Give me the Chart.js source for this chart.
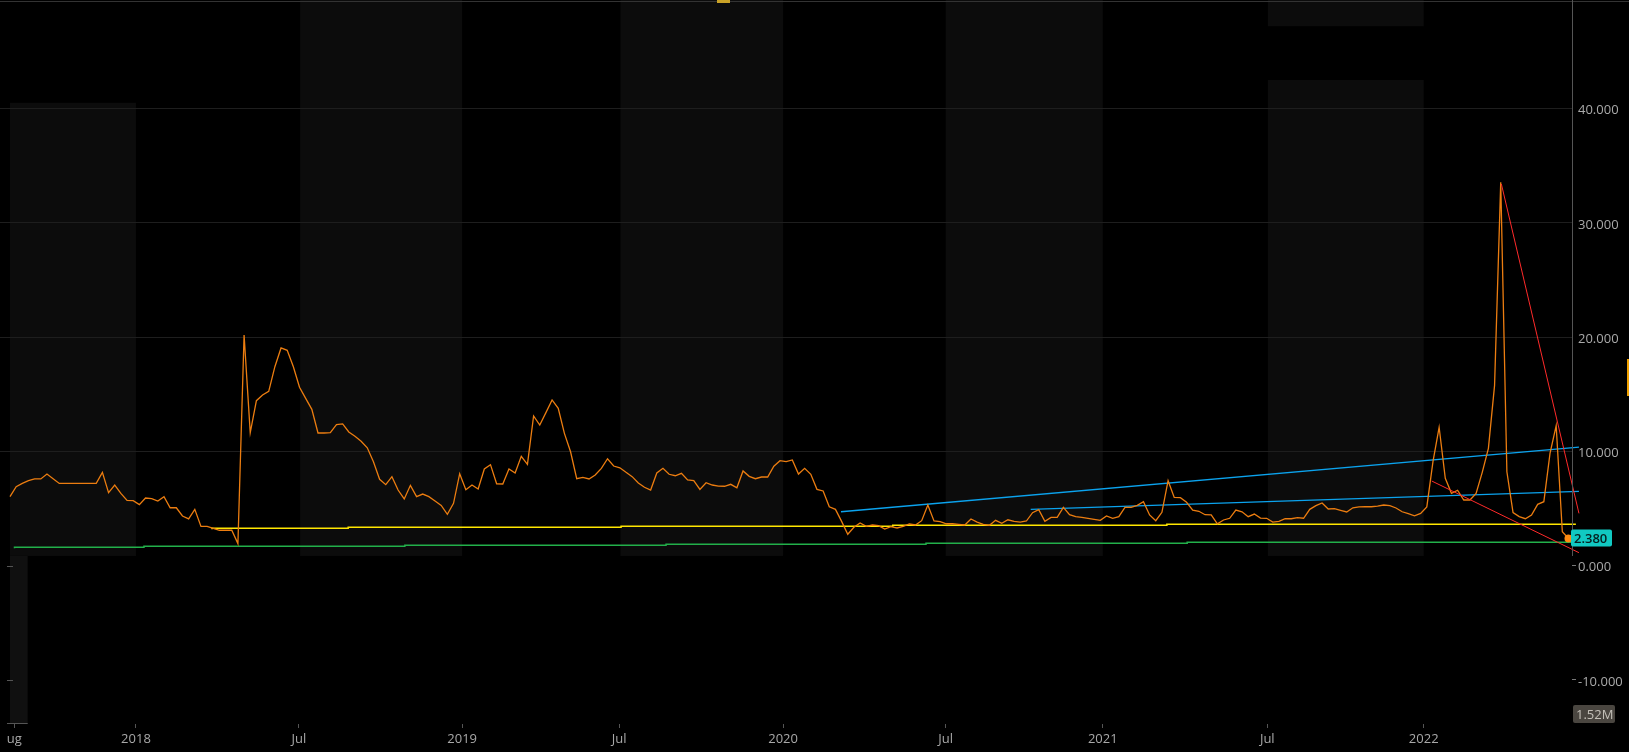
<!DOCTYPE html>
<html>
<head>
<meta charset="utf-8">
<script src="https://cdn.jsdelivr.net/npm/chart.js@4.4.1/dist/chart.umd.min.js"></script>
<style>
  html, body { margin: 0; padding: 0; background: #000; overflow: hidden; }
  #chart { display: block; }
</style>
</head>
<body>
<canvas id="chart" width="1629" height="752"></canvas>
<script>
// weekly values, Aug 2017 .. Jun 2022 (one per bar)
const weekly = [
  6.04, 6.91, 7.2, 7.44, 7.59, 7.59, 8.02, 7.61, 7.2, 7.2,
  7.2, 7.2, 7.2, 7.2, 7.2, 8.17, 6.39, 7.06, 6.33, 5.72,
  5.69, 5.34, 5.92, 5.86, 5.66, 6.04, 5.07, 5.07, 4.35, 4.09,
  4.93, 3.44, 3.44, 3.27, 3.1, 3.1, 3.1, 1.93, 20.18, 11.64,
  14.44, 14.93, 15.26, 17.41, 19.05, 18.84, 17.41, 15.61, 14.64, 13.68,
  11.61, 11.61, 11.64, 12.34, 12.4, 11.7, 11.32, 10.88, 10.32, 9.1,
  7.56, 7.09, 7.79, 6.62, 5.84, 7.03, 6.04, 6.27, 6.04, 5.66,
  5.28, 4.5, 5.46, 8.05, 6.65, 7.06, 6.71, 8.46, 8.84, 7.17,
  7.15, 8.46, 8.11, 9.57, 8.87, 13.1, 12.31, 13.39, 14.5, 13.77,
  11.58, 9.97, 7.61, 7.73, 7.59, 7.94, 8.52, 9.36, 8.72, 8.57,
  8.17, 7.79, 7.24, 6.86, 6.62, 8.11, 8.52, 8.0, 7.87, 8.08,
  7.5, 7.44, 6.68, 7.26, 7.06, 6.97, 6.95, 7.12, 6.82, 8.29,
  7.82, 7.61, 7.76, 7.76, 8.7, 9.19, 9.1, 9.25, 8.02, 8.52,
  8.0, 6.68, 6.54, 5.16, 4.93, 3.88, 2.75, 3.36, 3.74, 3.45,
  3.56, 3.5, 3.21, 3.41, 3.3, 3.45, 3.65, 3.56, 3.94, 5.31,
  3.91, 3.85, 3.67, 3.67, 3.62, 3.56, 4.09, 3.82, 3.62, 3.53,
  3.97, 3.71, 4.02, 3.88, 3.82, 3.91, 4.64, 4.9, 3.88, 4.23,
  4.23, 5.1, 4.46, 4.29, 4.23, 4.15, 4.06, 3.97, 4.35, 4.15,
  4.29, 5.1, 5.1, 5.28, 5.6, 4.44, 3.94, 4.67, 7.44, 5.98,
  5.95, 5.55, 4.87, 4.76, 4.46, 4.44, 3.67, 4.0, 4.15, 4.87,
  4.72, 4.29, 4.52, 4.17, 4.15, 3.82, 3.88, 4.11, 4.11, 4.2,
  4.15, 4.93, 5.25, 5.49, 4.96, 4.99, 4.85, 4.7, 5.07, 5.14,
  5.16, 5.16, 5.22, 5.31, 5.25, 5.05, 4.72, 4.55, 4.37, 4.58,
  5.14, 9.1, 12.11, 7.65, 6.33, 6.6, 5.75, 5.75, 6.33, 8.17,
  10.27, 15.78, 33.54, 8.22, 4.64, 4.29, 4.11, 4.44, 5.37, 5.6,
  9.83, 12.25, 2.97, 2.38
];

// x axis (in weeks from first bar)
const xTickPos = [0.7, 20.45, 46.9, 73.4, 98.9, 125.5, 151.9, 177.4, 204.1, 229.5];
const xTickLabels = ['ug', '2018', 'Jul', '2019', 'Jul', '2020', 'Jul', '2021', 'Jul', '2022'];
const yTicks = [-10, 0, 10, 20, 30, 40];

// step studies
const yellowX = [32.8, 54.9, 99.2, 143.3, 187.8, 232.1, 254.2];
const yellowY = [3.18, 3.27, 3.36, 3.45, 3.53, 3.62, 3.62];
const greenX = [0.73, 21.75, 64.1, 106.5, 148.7, 191.1, 233.4, 254.2];
const greenY = [1.52, 1.61, 1.70, 1.78, 1.87, 1.96, 2.05, 2.05];

// drawn trend lines [x, y]
const blueUpper = [[134.9, 4.72], [254.7, 10.38]];
const blueLower = [[165.7, 4.93], [254.7, 6.5]];
const redUpper = [[242.1, 33.4], [254.7, 4.58]];
const redLower = [[230.8, 7.41], [254.7, 1.14]];

// shaded half-year bands: start, end, top (null = chart top), bottom
const bandStart = [0, 47.1, 99.1, 151.9, 204.2, 204.2];
const bandEnd = [20.45, 73.4, 125.5, 177.4, 229.5, 229.5];
const bandTop = [40.5, null, null, null, 42.5, null];
const bandBottom = [0.85, 0.85, 0.85, 0.85, 0.85, 47.2];

const lastValue = weekly[weekly.length - 1];
const volumeLabel = '1.52M';

function pts(xs, ys) {
  return xs.map((x, i) => ({ x: x, y: ys[i] }));
}
function seg(pairs) {
  return pairs.map(p => ({ x: p[0], y: p[1] }));
}

Chart.defaults.font.family = '"Open Sans", "Noto Sans", sans-serif';
Chart.defaults.font.size = 13;

const backdrop = {
  id: 'backdrop',
  beforeDraw(chart) {
    const c = chart.ctx, xs = chart.scales.x, ys = chart.scales.y;
    c.save();
    c.fillStyle = '#0c0c0c';
    for (let i = 0; i < bandStart.length; i++) {
      const x0 = xs.getPixelForValue(bandStart[i]);
      const x1 = xs.getPixelForValue(bandEnd[i]);
      const y0 = bandTop[i] === null ? 0 : ys.getPixelForValue(bandTop[i]);
      const y1 = ys.getPixelForValue(bandBottom[i]);
      c.fillRect(x0, y0, x1 - x0, y1 - y0);
    }
    // small left pane below the bands
    const lx0 = xs.getPixelForValue(0);
    const lx1 = xs.getPixelForValue(2.87);
    const ly0 = ys.getPixelForValue(0.85);
    const ly1 = chart.chartArea.bottom;
    c.fillStyle = '#101010';
    c.fillRect(lx0, ly0, lx1 - lx0, ly1 - ly0);
    c.strokeStyle = '#555';
    c.lineWidth = 1;
    c.beginPath();
    [0, -10].forEach(v => {
      const y = Math.round(ys.getPixelForValue(v)) + 0.5;
      c.moveTo(lx0 - 3, y); c.lineTo(lx0 + 3, y);
    });
    c.moveTo(lx0 - 3, ly1 - 0.5); c.lineTo(lx1, ly1 - 0.5);
    c.stroke();
    c.restore();
  },
  afterDraw(chart) {
    const c = chart.ctx, ys = chart.scales.y, area = chart.chartArea;
    c.save();
    // top border
    c.fillStyle = '#333';
    c.fillRect(0, 1, chart.width, 1);
    // price axis line
    c.fillStyle = '#555';
    c.fillRect(area.right, 0, 1, ys.getPixelForValue(0.85));
    // tiny marker at top
    c.fillStyle = '#c9a227';
    c.fillRect(717, 0, 13, 3);
    // orange tab on right edge
    c.fillStyle = '#f0a000';
    c.fillRect(chart.width - 2, 359, 2, 37);
    // last value bubble
    const ly = ys.getPixelForValue(lastValue);
    c.fillStyle = '#11c9c2';
    c.beginPath();
    c.roundRect(area.right - 1, ly - 9, 41, 17, 2);
    c.fill();
    c.fillStyle = '#062020';
    c.font = '600 13px "Open Sans", sans-serif';
    c.textBaseline = 'middle';
    c.textAlign = 'left';
    c.fillText(lastValue.toFixed(3), area.right + 2, ly + 1);
    // volume bubble
    c.fillStyle = '#4a4640';
    c.beginPath();
    c.roundRect(area.right + 1, 705, 42, 18, 2);
    c.fill();
    c.fillStyle = '#c4c0b8';
    c.font = '13px "Open Sans", sans-serif';
    c.fillText(volumeLabel, area.right + 4, 715);
    c.restore();
  }
};

new Chart(document.getElementById('chart'), {
  type: 'line',
  data: {
    datasets: [
      {
        data: seg(redUpper), borderColor: '#ff2a2a', borderWidth: 1,
        clip: { left: 0, top: 0, right: 10, bottom: 0 }
      },
      {
        data: seg(redLower), borderColor: '#ff2a2a', borderWidth: 1,
        clip: { left: 0, top: 0, right: 10, bottom: 0 }
      },
      {
        data: weekly.map((v, i) => ({ x: i, y: v })),
        borderColor: '#ec7d10',
        borderWidth: 1.3,
        pointRadius: ctx => (ctx.dataIndex === weekly.length - 1 ? 4 : 0),
        pointHoverRadius: 0,
        pointBackgroundColor: '#ff8a10',
        pointBorderWidth: 0
      },
      {
        data: seg(blueUpper), borderColor: '#0ba3ee', borderWidth: 1.3,
        clip: { left: 0, top: 0, right: 10, bottom: 0 }
      },
      {
        data: seg(blueLower), borderColor: '#0ba3ee', borderWidth: 1.3,
        clip: { left: 0, top: 0, right: 10, bottom: 0 }
      },
      {
        data: pts(yellowX, yellowY), borderColor: '#ffe600', borderWidth: 1.5,
        stepped: 'after', clip: { left: 0, top: 0, right: 10, bottom: 0 }
      },
      {
        data: pts(greenX, greenY), borderColor: '#22b04a', borderWidth: 1.5,
        stepped: 'after', clip: { left: 0, top: 0, right: 10, bottom: 0 }
      }
    ]
  },
  options: {
    responsive: false,
    animation: false,
    events: [],
    layout: { autoPadding: false, padding: { top: 2, left: 0, right: 0, bottom: 0 } },
    elements: { point: { radius: 0 }, line: { tension: 0 } },
    plugins: {
      legend: { display: false },
      tooltip: { enabled: false }
    },
    scales: {
      x: {
        type: 'linear',
        min: -1.623,
        max: 253.57,
        afterBuildTicks: scale => { scale.ticks = xTickPos.map(v => ({ value: v })); },
        afterFit: scale => {
          scale.height = 28;
          scale.paddingLeft = 0;
          scale.paddingRight = 0;
        },
        border: { display: false },
        grid: { drawOnChartArea: false, tickLength: 4, color: '#555' },
        ticks: {
          color: '#a8a8a8',
          padding: 3,
          maxRotation: 0,
          autoSkip: false,
          callback: (v, i) => xTickLabels[i]
        }
      },
      y: {
        type: 'linear',
        position: 'right',
        min: -13.85,
        max: 49.32,
        afterBuildTicks: scale => { scale.ticks = yTicks.map(v => ({ value: v })); },
        afterFit: scale => {
          scale.width = 57;
          scale.paddingTop = 0;
          scale.paddingBottom = 0;
        },
        border: { display: false },
        grid: {
          tickLength: 4,
          color: ctx => (ctx.tick && ctx.tick.value > 0 ? '#1e1e1e' : 'rgba(0,0,0,0)'),
          tickColor: ctx => (ctx.tick && ctx.tick.value <= 0 ? '#777' : 'rgba(0,0,0,0)')
        },
        ticks: {
          color: '#a9a9a9',
          padding: 2,
          labelOffset: 2,
          callback: v => v.toFixed(3)
        }
      }
    }
  },
  plugins: [backdrop]
});
</script>
</body>
</html>
